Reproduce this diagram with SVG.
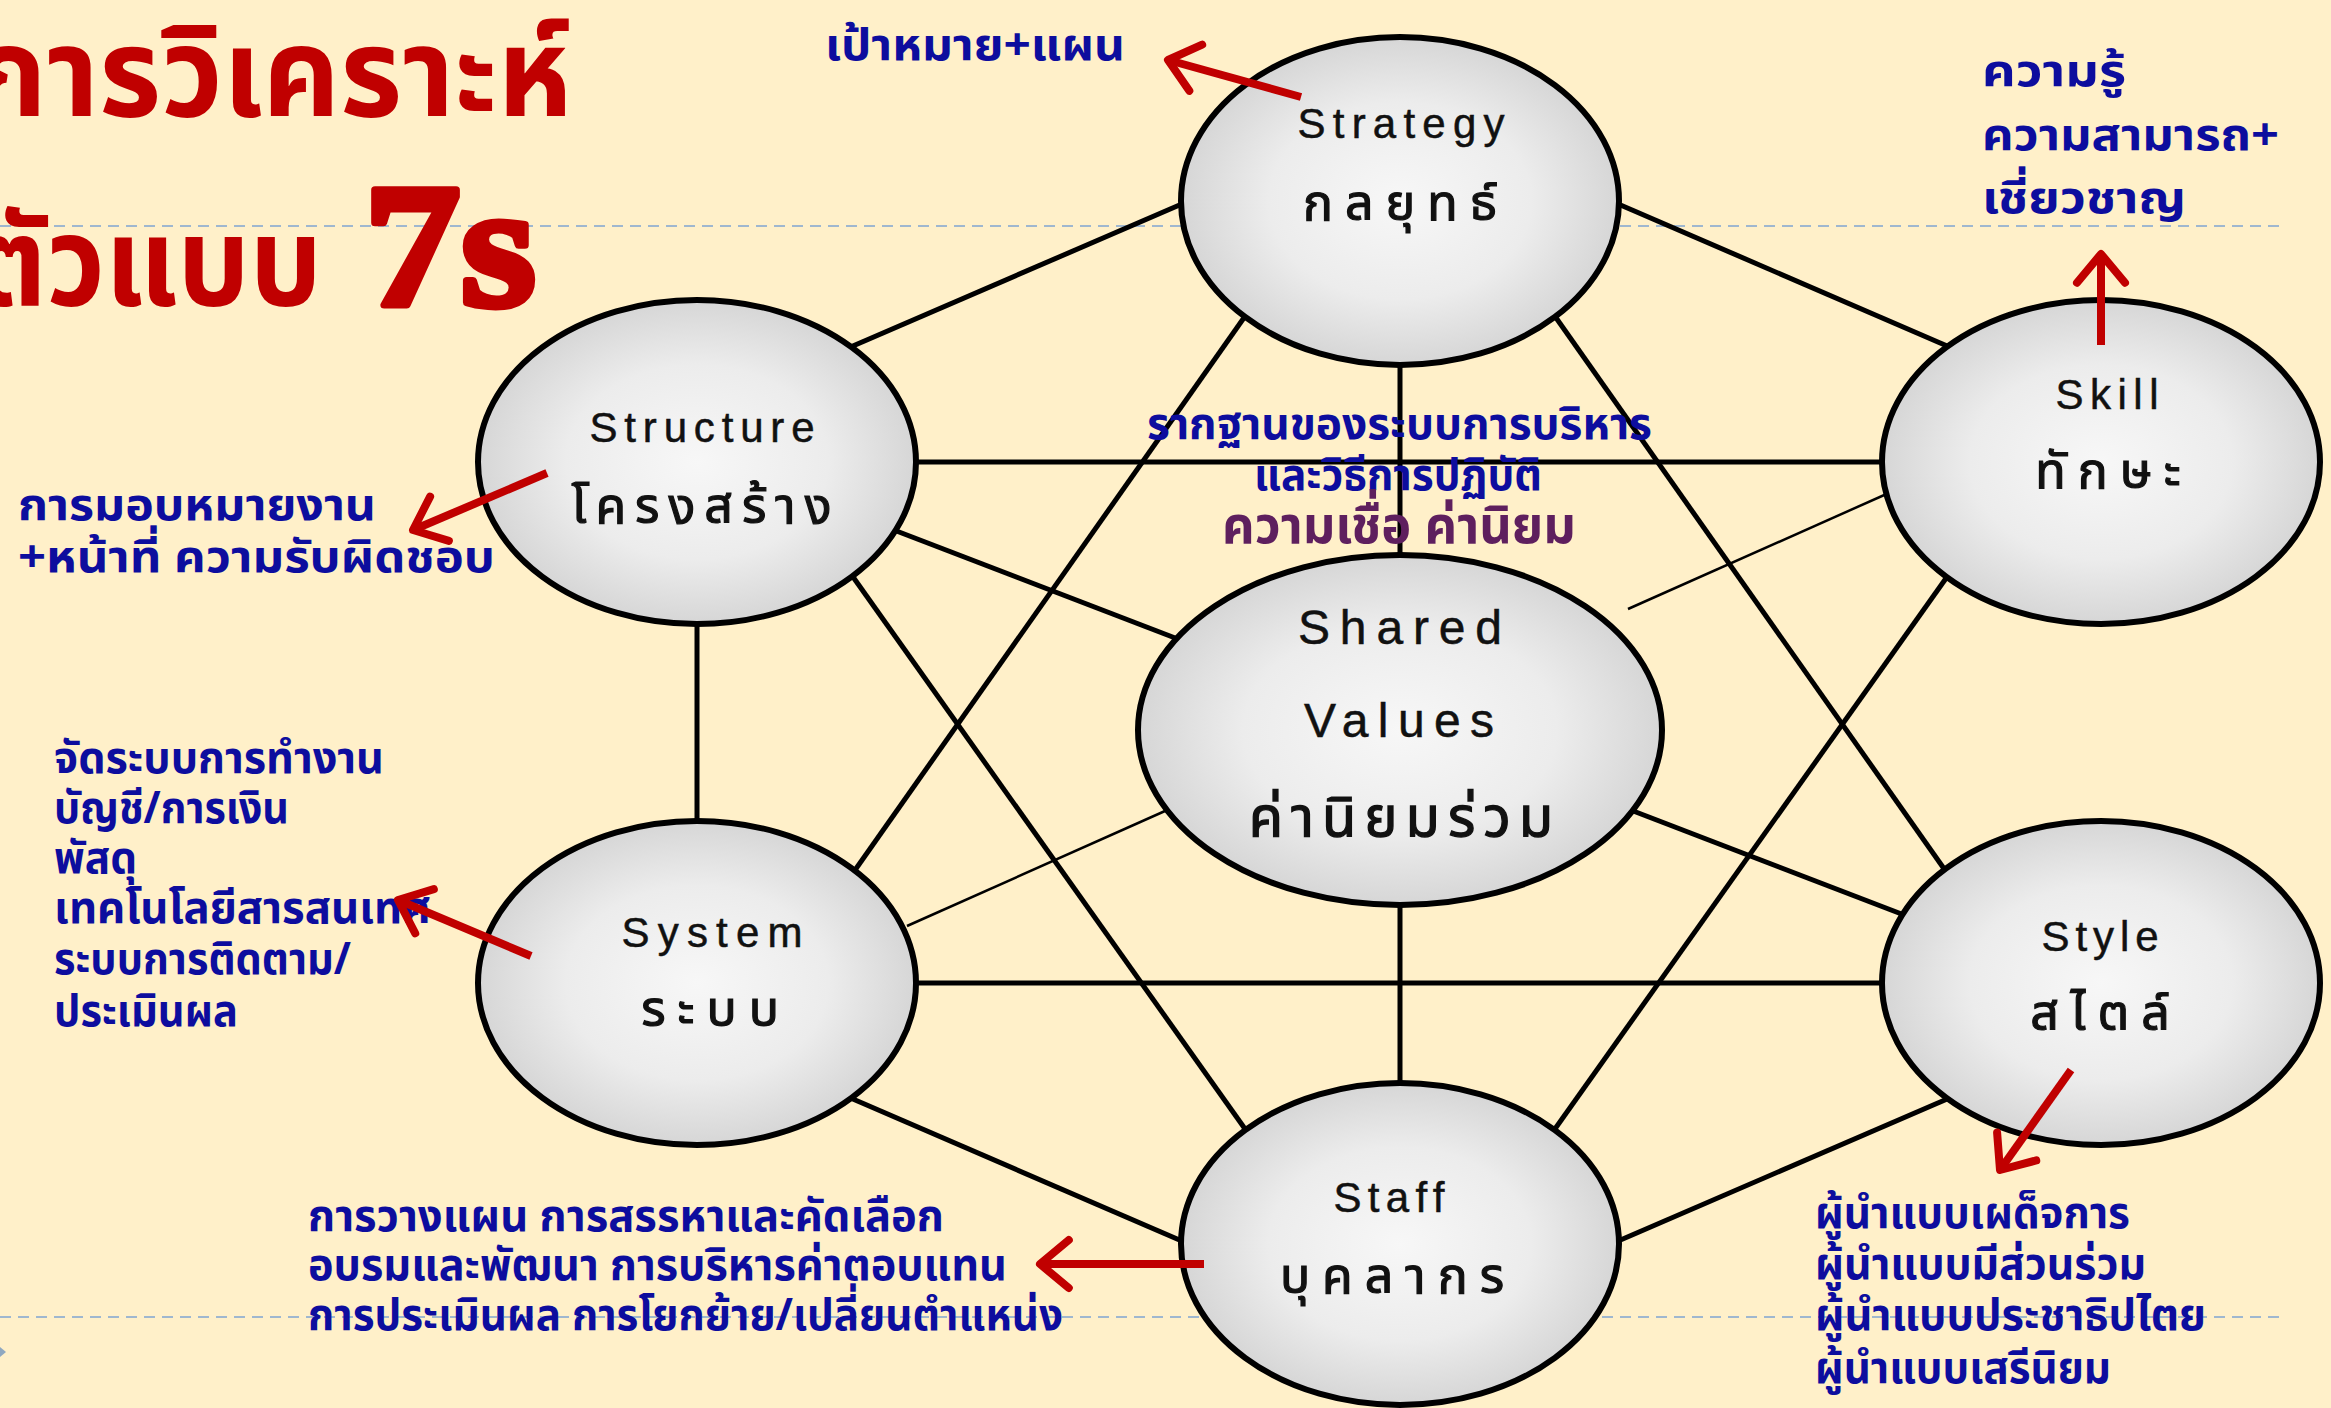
<svg xmlns="http://www.w3.org/2000/svg" width="2331" height="1408" viewBox="0 0 2331 1408">
<defs>
<radialGradient id="ball" cx="50%" cy="50%" r="50%">
<stop offset="0" stop-color="#f7f7f7"/>
<stop offset="0.6" stop-color="#ececec"/>
<stop offset="1" stop-color="#d6d6d6"/>
</radialGradient>
<marker id="arr" viewBox="-5 -5 10 10" refX="0" refY="0" markerWidth="10" markerHeight="10" orient="auto" overflow="visible">
<path d="M-3.6,-3 L0,0 L-3.6,3" fill="none" stroke="#c00000" stroke-width="1" stroke-linecap="round" stroke-linejoin="round"/>
</marker>
<style>
.node ellipse{fill:url(#ball);stroke:#000;stroke-width:6}
.lbl{font-family:"Liberation Sans",Arial,"Noto Sans Thai",sans-serif;font-size:42px;fill:#111;text-anchor:middle;stroke:#111;stroke-width:0.5}
.th{font-size:50px;stroke-width:1.2}
.big{font-size:48px}
.bigth{font-size:56px;stroke-width:1.3}
.con line{stroke:#000;stroke-width:5}
.con line.thin{stroke-width:2.5}
.red{stroke:#c00000;stroke-width:8;fill:none;marker-end:url(#arr)}
.ann{font-family:Tahoma,"Noto Sans Thai","Noto Sans",sans-serif;font-weight:bold;font-size:45px;fill:#0d0d9e}
.purple{fill:#5e1f5e;font-size:52px}
.dash{stroke:#9fb7cf;stroke-width:2;stroke-dasharray:11 7}
</style>
</defs>
<rect width="2331" height="1408" fill="#fff0c9"/>
<line class="dash" x1="0" y1="226" x2="2282" y2="226"/>
<line class="dash" x1="0" y1="1317" x2="2282" y2="1317"/>
<polygon points="0,1347 6,1352 0,1357" fill="#8fa8c0"/>
<g id="title" fill="#c00000" font-weight="bold">
<text x="-28" y="116" font-family="'Noto Sans Thai','Noto Sans',sans-serif" font-size="125" textLength="600" lengthAdjust="spacingAndGlyphs">การวิเคราะห์</text>
<text x="-28" y="305" font-family="'Noto Sans Thai','Noto Sans',sans-serif" font-size="125" textLength="350" lengthAdjust="spacingAndGlyphs">ตัวแบบ</text>
<text x="364" y="305" font-family="'Liberation Serif',serif" font-size="175" stroke="#c00000" stroke-width="7" stroke-linejoin="round" textLength="172" lengthAdjust="spacingAndGlyphs">7s</text>
</g>
<g id="connectors" class="con">
<line x1="1205" y1="194" x2="832" y2="355"/>
<line x1="1595" y1="194" x2="1968" y2="355"/>
<line x1="1400" y1="345" x2="1400" y2="575"/>
<line x1="1260" y1="295" x2="841" y2="890"/>
<line x1="1540" y1="295" x2="1959" y2="890"/>
<line x1="900" y1="462" x2="1900" y2="462"/>
<line x1="873" y1="522" x2="1183" y2="641"/>
<line x1="697" y1="610" x2="697" y2="835"/>
<line x1="841" y1="560" x2="1260" y2="1150"/>
<line x1="1959" y1="560" x2="1540" y2="1150"/>
<line x1="900" y1="983" x2="1900" y2="983"/>
<line x1="832" y1="1090" x2="1205" y2="1251"/>
<line x1="1968" y1="1090" x2="1595" y2="1251"/>
<line x1="1925" y1="923" x2="1615" y2="804"/>
<line x1="1400" y1="890" x2="1400" y2="1100"/>
<line class="thin" x1="1900" y1="488" x2="1628" y2="609"/>
<line class="thin" x1="907" y1="926" x2="1174" y2="807"/>
</g>
<g id="strategy" class="node">
<ellipse cx="1400" cy="201" rx="219" ry="164"/>
<text class="lbl" x="1401" y="138" textLength="207" lengthAdjust="spacing">Strategy</text>
<text class="lbl th" x="1406" y="220" letter-spacing="12">กลยุทธ์</text>
</g>
<g id="structure" class="node">
<ellipse cx="697" cy="462" rx="219" ry="162"/>
<text class="lbl" x="702" y="442" textLength="225" lengthAdjust="spacing">Structure</text>
<text class="lbl th" x="706" y="523" letter-spacing="9">โครงสร้าง</text>
</g>
<g id="skill" class="node">
<ellipse cx="2101" cy="462" rx="219" ry="162"/>
<text class="lbl" x="2107" y="409" textLength="103" lengthAdjust="spacing">Skill</text>
<text class="lbl th" x="2114" y="488" letter-spacing="12">ทักษะ</text>
</g>
<g id="shared" class="node">
<ellipse cx="1400" cy="730" rx="262" ry="175"/>
<text class="lbl big" x="1400" y="644" textLength="204" lengthAdjust="spacing">Shared</text>
<text class="lbl big" x="1399" y="737" textLength="190" lengthAdjust="spacing">Values</text>
<text class="lbl bigth" x="1405" y="836" letter-spacing="8">ค่านิยมร่วม</text>
</g>
<g id="system" class="node">
<ellipse cx="697" cy="983" rx="219" ry="162"/>
<text class="lbl" x="712" y="947" textLength="181" lengthAdjust="spacing">System</text>
<text class="lbl th" x="716" y="1026" letter-spacing="12">ระบบ</text>
</g>
<g id="style" class="node">
<ellipse cx="2101" cy="983" rx="219" ry="162"/>
<text class="lbl" x="2100" y="951" textLength="117" lengthAdjust="spacing">Style</text>
<text class="lbl th" x="2106" y="1030" letter-spacing="12">สไตล์</text>
</g>
<g id="staff" class="node">
<ellipse cx="1400" cy="1244" rx="219" ry="161"/>
<text class="lbl" x="1389" y="1212" textLength="111" lengthAdjust="spacing">Staff</text>
<text class="lbl th" x="1398" y="1293" letter-spacing="12">บุคลากร</text>
</g>
<g id="annotations">
<text class="ann" x="825" y="60" textLength="300" lengthAdjust="spacingAndGlyphs">เป้าหมาย+แผน</text>
<text class="ann" x="1982" y="86" textLength="144" lengthAdjust="spacingAndGlyphs">ความรู้</text>
<text class="ann" x="1982" y="150" textLength="297" lengthAdjust="spacingAndGlyphs">ความสามารถ+</text>
<text class="ann" x="1982" y="213" textLength="204" lengthAdjust="spacingAndGlyphs">เชี่ยวชาญ</text>
<text class="ann" x="18" y="520" textLength="358" lengthAdjust="spacingAndGlyphs">การมอบหมายงาน</text>
<text class="ann" x="18" y="572" textLength="477" lengthAdjust="spacingAndGlyphs">+หน้าที่ ความรับผิดชอบ</text>
<text class="ann" x="54" y="773" textLength="330" lengthAdjust="spacingAndGlyphs">จัดระบบการทำงาน</text>
<text class="ann" x="54" y="823" textLength="235" lengthAdjust="spacingAndGlyphs">บัญชี/การเงิน</text>
<text class="ann" x="54" y="873" textLength="83" lengthAdjust="spacingAndGlyphs">พัสดุ</text>
<text class="ann" x="54" y="923" textLength="377" lengthAdjust="spacingAndGlyphs">เทคโนโลยีสารสนเทศ</text>
<text class="ann" x="54" y="974" textLength="297" lengthAdjust="spacingAndGlyphs">ระบบการติดตาม/</text>
<text class="ann" x="54" y="1026" textLength="184" lengthAdjust="spacingAndGlyphs">ประเมินผล</text>
<text class="ann" x="1147" y="439" textLength="505" lengthAdjust="spacingAndGlyphs">รากฐานของระบบการบริหาร</text>
<text class="ann" x="1254" y="490" textLength="288" lengthAdjust="spacingAndGlyphs">และวิธีการปฏิบัติ</text>
<text class="ann purple" x="1222" y="543" textLength="354" lengthAdjust="spacingAndGlyphs">ความเชื่อ ค่านิยม</text>
<text class="ann" x="308" y="1231" textLength="636" lengthAdjust="spacingAndGlyphs">การวางแผน  การสรรหาและคัดเลือก</text>
<text class="ann" x="308" y="1280" textLength="699" lengthAdjust="spacingAndGlyphs">อบรมและพัฒนา การบริหารค่าตอบแทน</text>
<text class="ann" x="308" y="1330" textLength="755" lengthAdjust="spacingAndGlyphs">การประเมินผล การโยกย้าย/เปลี่ยนตำแหน่ง</text>
<text class="ann" x="1815" y="1228" textLength="315" lengthAdjust="spacingAndGlyphs">ผู้นำแบบเผด็จการ</text>
<text class="ann" x="1815" y="1279" textLength="331" lengthAdjust="spacingAndGlyphs">ผู้นำแบบมีส่วนร่วม</text>
<text class="ann" x="1815" y="1330" textLength="391" lengthAdjust="spacingAndGlyphs">ผู้นำแบบประชาธิปไตย</text>
<text class="ann" x="1815" y="1383" textLength="296" lengthAdjust="spacingAndGlyphs">ผู้นำแบบเสรีนิยม</text>
</g>
<g id="arrows">
<line class="red" x1="1301" y1="97" x2="1168" y2="60"/>
<line class="red" x1="2101" y1="345" x2="2101" y2="254"/>
<line class="red" x1="547" y1="473" x2="413" y2="530"/>
<line class="red" x1="531" y1="956" x2="398" y2="900"/>
<line class="red" x1="1204" y1="1264" x2="1040" y2="1264"/>
<line class="red" x1="2071" y1="1070" x2="2000" y2="1170"/>
</g>
</svg>
